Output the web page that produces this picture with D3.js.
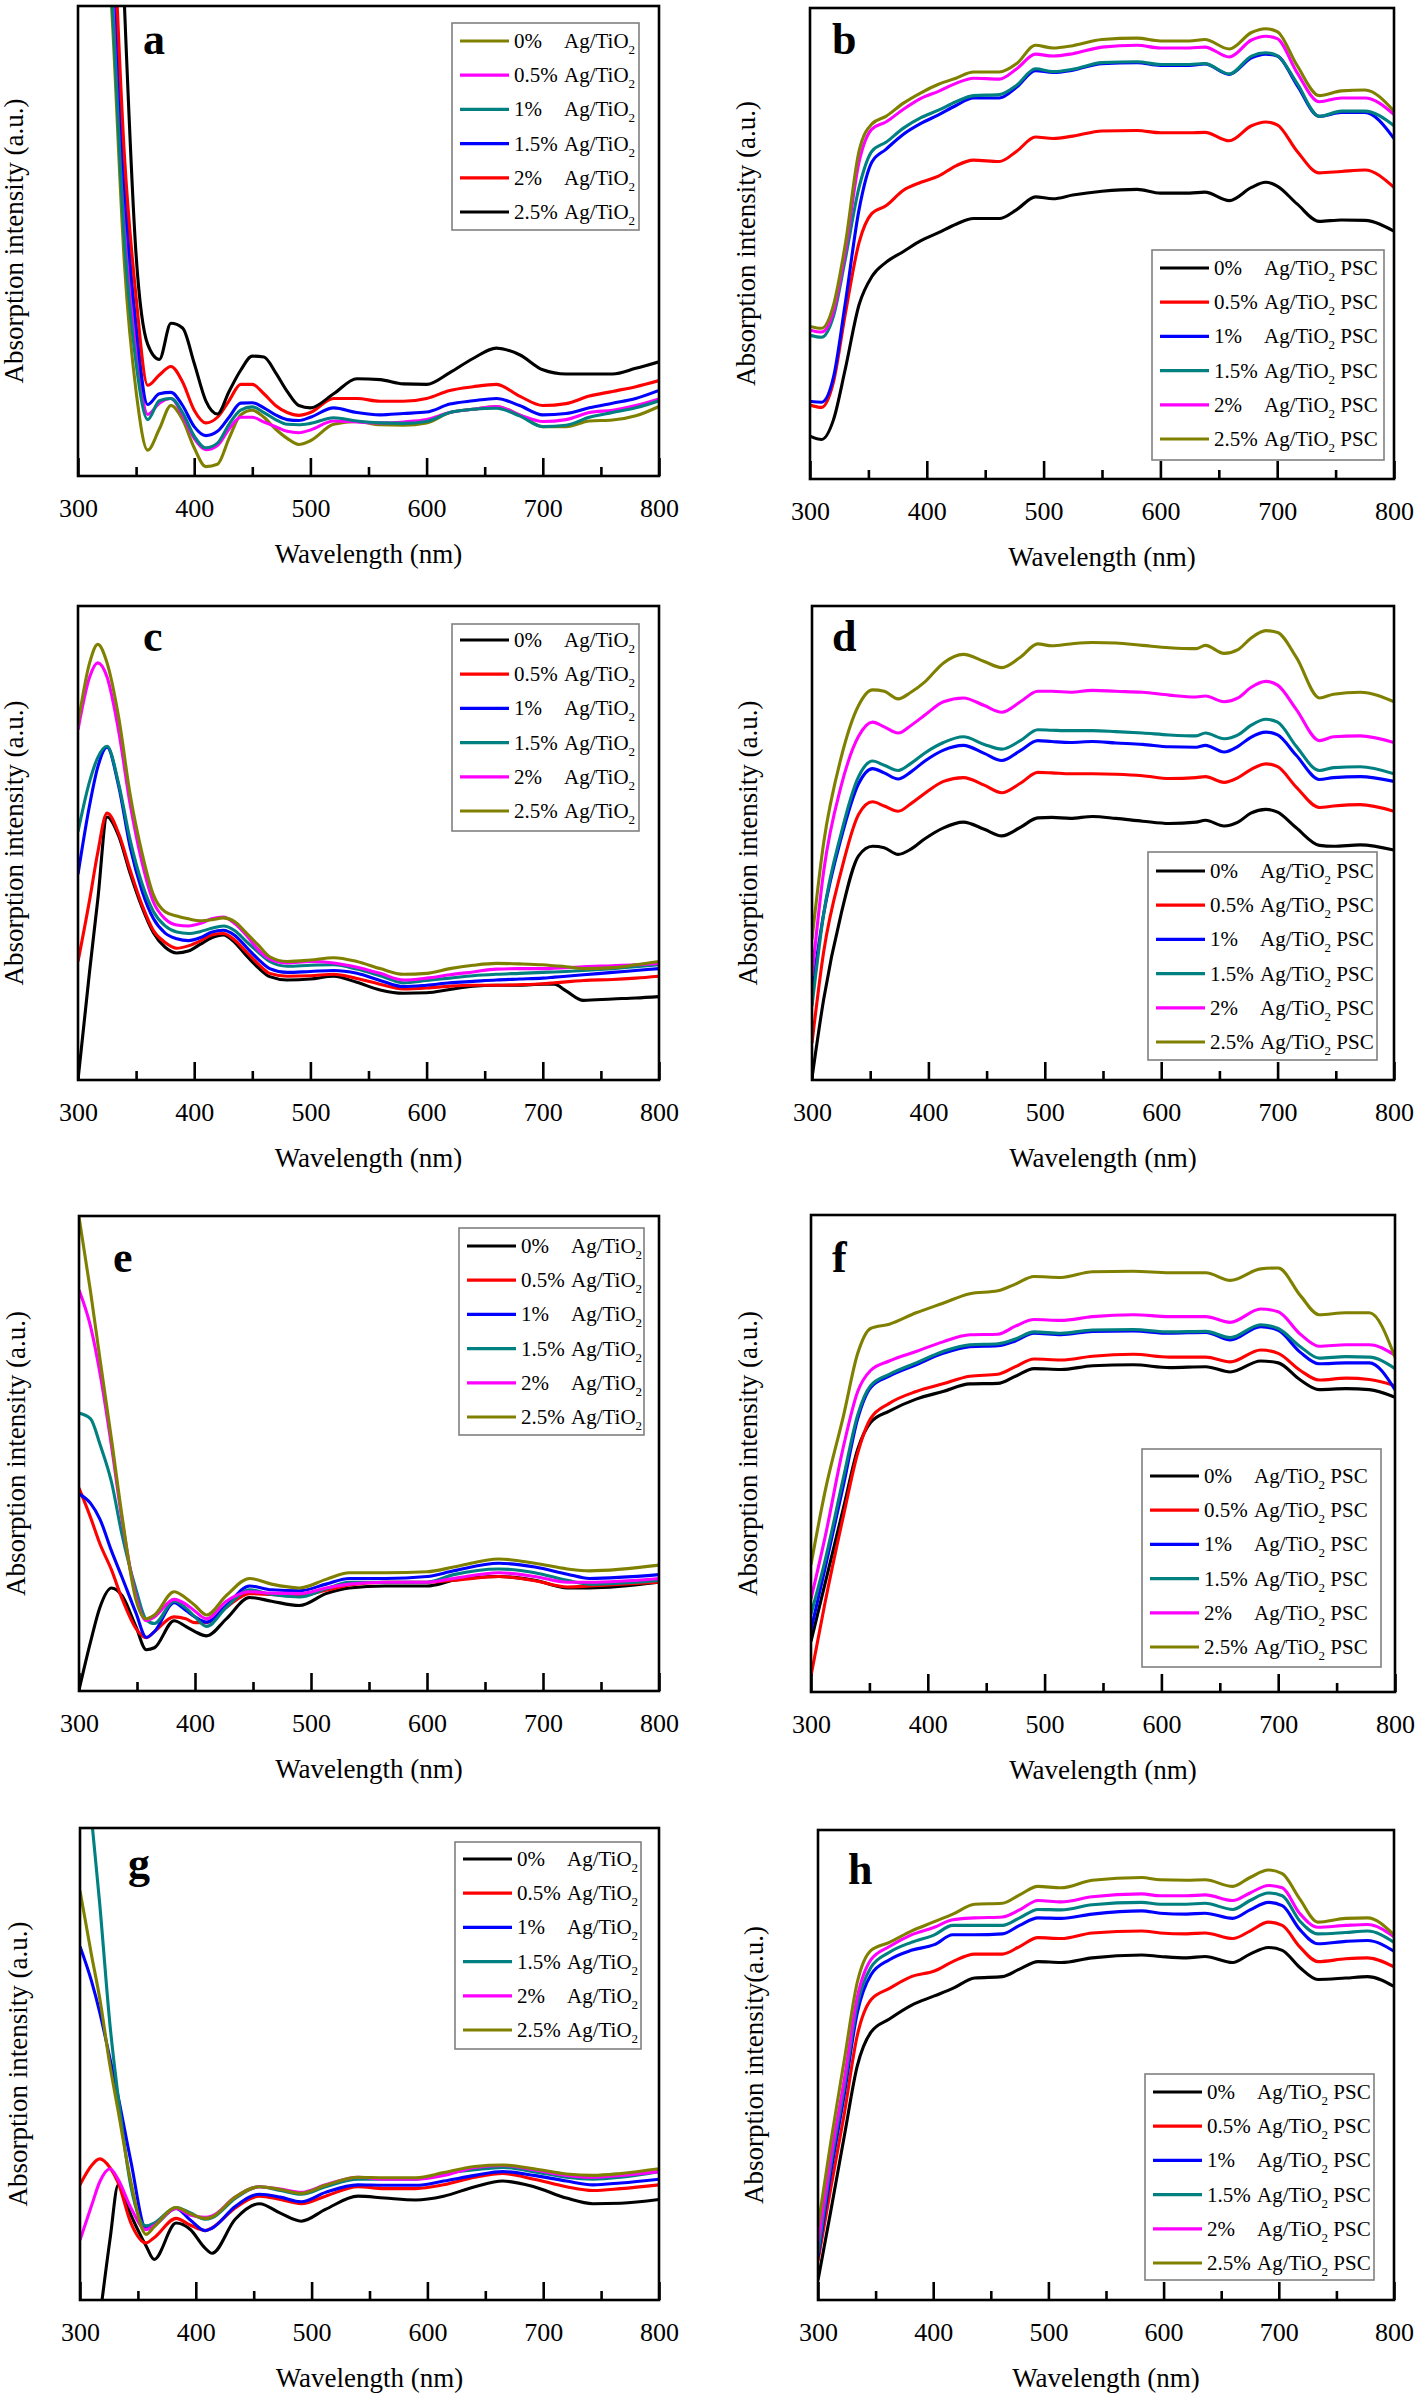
<!DOCTYPE html>
<html>
<head>
<meta charset="utf-8">
<title>Ag/TiO2 absorption spectra</title>
<style>
  body { margin: 0; background: #fff; }
  text { font-family: "Liberation Serif", "Times New Roman", serif; }
</style>
</head>
<body>
<script src="https://cdn.jsdelivr.net/npm/d3@7/dist/d3.min.js"></script>
<script>
// ---- data (relative absorption, 0 = bottom of frame, 100 = top) ----
var levels = ["0%", "0.5%", "1%", "1.5%", "2%", "2.5%"];
var xTicks = [300, 400, 500, 600, 700, 800];
var xMinor = [350, 450, 550, 650, 750];

// panel a (Ag/TiO2)
var aWl = [320,330,340,350,360,370,380,390,400,410,420,430,440,450,460,470,480,490,500,520,540,560,580,600,620,640,660,680,700,720,740,760,780,800];
var a00 = [140,95,45,18,5.5,10,15,12,6,2,2.5,8,13,14,12.5,10,8,6.7,7.5,11,11.6,10.9,10.8,11.3,13.5,14.2,14.8,13,10.5,10.5,11.7,11.9,12.8,14.8];
var a05 = [150,108,55,28,13.1,15.5,16.5,13,8,5.6,6.5,10,12.5,12.5,11.5,10.5,9.5,9.2,9.8,11.7,11.5,11.3,11.5,12,13.5,14.2,14.8,13,11.6,12,13.5,14,15,16.4];
var a10 = [140,98,50,24,12,16,16.5,13.5,8.5,6,7,11,14,14.7,13.5,12,11,10.9,11.2,12.4,11.7,11.3,11.2,11.6,13.5,14.2,14.4,12.8,10.5,10.8,12.5,13.5,14.5,16];
var a15 = [160,115,62,32,15.2,17.5,17.8,15,10.5,8.6,9.5,12.5,15.5,15.6,14.5,13,12,11.8,12.5,14.5,13.5,13,13.3,13.6,15.3,16,16.5,15,13,13.3,14.5,15.5,16.5,18.2];
var a20 = [165,120,68,38,19.3,21.5,23.3,20,14,11.3,12.5,16,19.5,19.5,17.5,15,13.5,12.9,13.5,16.5,16.5,15.9,15.9,16.5,18.2,19,19.5,17,15,15.4,17,18,19,20.3];
var a25 = [220,170,100,47,28,24.8,32.5,31.5,24,16,13.2,18,22.5,25.5,25.3,22,18,15,14.5,17.5,20.7,20.5,19.6,19.5,22,25,27.2,25.8,22.6,21.7,21.7,21.7,22.9,24.3];

// panel b (PSC)
var bWl = [300,310,320,330,342,353,365,380,395,410,425,440,462,477,493,508,525,550,580,600,625,638,659,678,690,700,717,736,755,775,800];
var b00 = [9.1,8.4,12.5,23.1,37,43,46,48.3,50.6,52.3,54.1,55.3,55.3,57.2,59.9,59.5,60.3,61.1,61.5,60.7,60.7,60.9,59.1,61.9,63,62.2,58.4,54.7,55,54.9,52.6];
var b05 = [15.7,15.2,20.5,34.7,50.2,56.4,58,61.3,63,64.3,66.5,67.7,67.4,69.6,72.6,72.3,72.8,73.9,74,73.5,73.5,73.6,71.8,75,75.8,75.2,69.6,65,65.3,65.6,61.9];
var b10 = [16.5,16.3,21.5,37,57.2,67.3,70,73.2,75.5,77.3,79.3,80.9,80.9,83.2,86.7,86.3,86.8,88.2,88.4,87.8,87.8,88.1,85.9,89.4,90.2,89.8,83.6,77,77.8,77.8,72.3];
var b15 = [30.5,30.1,34.5,46.4,61.9,69.6,71.5,74.5,76.7,78.3,80.1,81.4,81.6,83.6,87.1,86.5,87,88.4,88.6,88,88,88.2,86,89.8,90.5,89.9,84,77,78.1,78.1,75];
var b20 = [31.6,31.2,35.5,47.9,67.3,74.3,75.8,78.5,80.8,82.3,84,85.1,84.9,87.1,90.2,89.8,90.3,91.7,92.1,91.5,91.5,91.7,89.6,93.2,94,93.5,86.3,80.1,80.9,80.9,77.4];
var b25 = [32.4,32,36.8,49.5,69.6,75.4,77,79.8,82,83.8,85.1,86.4,86.4,88.2,92.1,91.5,92,93.3,93.6,93,93,93.3,91.3,94.8,95.6,95,87.8,81.4,82.4,82.6,78.1];

// panel c (Ag/TiO2)
var cWl = [300,310,317,325,335,345,355,365,375,385,395,405,415,425,435,445,455,465,480,500,520,540,560,580,600,620,640,660,680,700,710,720,735,760,780,800];
var c00 = [0,23,38,55.5,51.5,43.5,36.5,31,28,26.8,27.2,28.6,30,30.6,29,26.2,23.7,21.8,21.1,21.3,21.9,20.6,19,18.3,18.4,19.1,19.8,20,20,20.2,20.2,18.8,16.8,17.1,17.3,17.6];
var c05 = [25,38,48,56.3,52,44.2,37,31.5,29,27.8,28.3,29.3,30.6,30.9,29.5,27,24.5,22.5,21.9,22,22.3,21.4,20.2,19.2,19.4,19.8,20,20,20.1,20.3,20.5,20.7,21,21.2,21.5,21.9];
var c10 = [43.4,58,66,70.2,62,49,40,34,31,29.8,29.4,30,31.2,31.6,30.5,28,25.5,23.5,22.7,22.9,23.1,22.5,21,19.7,20,20.5,20.8,21.1,21.3,21.5,21.7,21.9,22.2,22.7,23.1,23.5];
var c15 = [52.4,63,68,70.4,62.5,50.5,41.5,35.5,32.5,31.2,30.9,31.3,32,32.5,31.5,29.2,27,25,24,24.2,24.3,23.4,22,20.5,21,21.5,22,22.3,22.5,22.7,22.8,22.9,23.1,23.5,23.9,24.3];
var c20 = [73.9,85,88,85,73.6,58,46,37.5,34,32.7,32.5,33,34,34.4,33,30.5,27.5,25.5,24.7,25,24.7,23.8,22.5,21.1,21.5,22.2,22.8,23.4,23.5,23.5,23.6,23.7,23.9,24.1,24.3,24.6];
var c25 = [75.1,88,91.9,88,76.5,60,48,39,35.5,34.6,34,33.6,33.8,34.2,33.4,31,28.5,26,25,25.3,25.8,25,23.5,22.3,22.5,23.5,24.2,24.6,24.5,24.3,24.1,23.9,23.5,23.7,24.3,25];

// panel d (PSC)
var dWl = [300,310,325,340,352,362,374,385,397,413,430,448,463,479,494,506,522,541,561,584,607,630,638,654,666,677,690,700,716,736,748,771,800];
var d00 = [0.4,17,35,47.3,49.3,49,47.6,48.7,50.9,53.2,54.4,52.9,51.5,53.3,55.3,55.4,55.2,55.6,55.2,54.6,54.1,54.4,54.8,53.6,54.4,56.3,57.1,56.5,53.2,49.5,49.3,49.6,48.5];
var d05 = [7.8,27,44,56,58.7,57.8,56.7,58.3,60.5,63,63.8,62.2,60.6,62.6,64.9,64.8,64.6,64.6,64.5,64.2,63.6,63.8,64,62.8,63.8,65.5,66.7,66.1,61.8,57.5,57.8,58.1,56.7];
var d10 = [18.8,35,51,62.5,65.7,64.8,63.5,65,67.3,69.6,70.6,68.9,67.4,69.5,71.6,71.4,71.2,71.4,71.1,70.8,70.3,70.2,70.6,69.2,70.4,72.3,73.4,72.8,68.5,63.4,63.8,64,63];
var d15 = [15.6,35,52,64,67.3,66.4,65.3,66.8,69,71.2,72.4,70.8,69.8,71.6,73.9,73.8,73.7,73.7,73.5,73.2,72.8,72.6,73.2,72,72.8,74.8,76.1,75.5,70.4,65.3,65.9,66.1,64.6];
var d20 = [21.9,44,62,72.5,75.5,74.5,73.2,74.8,77,79.8,80.6,79,77.6,79.8,82,82,81.8,82.2,82,81.8,81.2,80.8,81,79.8,80.6,82.8,84.1,83.3,78.2,71.6,72.4,72.6,71.2];
var d25 = [29.7,50,68,79,82.3,82,80.4,81.8,84,88,89.8,88.3,87,89.2,92,91.6,92,92.3,92.2,91.7,91.2,91,91.7,90,90.8,93.2,94.8,94.4,89.2,80.6,81.4,81.8,79.8];

// panel e (Ag/TiO2)
var eWl = [300,310,318,328,337,349,358,365,382,392,400,410,427,447,466,490,513,533,564,600,623,662,693,721,740,800];
var e00 = [0.2,10.4,17.6,21.7,20.1,13.6,8.7,9.1,14.8,13.6,12.5,11.6,15.2,19.7,18.9,18,20.5,21.7,22.1,22.1,23.3,24.1,23.3,21.7,21.7,22.9];
var e05 = [42.7,36.5,31,25.5,19.5,13.2,11.2,12.5,15.6,15.2,14.4,14.4,17.6,20.5,20.3,20.1,21.2,22.3,22.9,22.9,23.3,24.1,23.2,21.9,22.1,22.9];
var e10 = [41.5,39.5,36.2,29.5,24,16.5,11.3,12.5,18.6,17,15.6,14.5,18,22.1,21.3,21.1,22.5,23.7,23.7,24.1,25.3,26.9,26.1,24.6,23.7,24.5];
var e15 = [58.5,57.3,52,44,33,21.5,15,14.2,18.9,17.5,15.6,13.6,17.6,21.3,20.3,19.8,21.5,22.9,22.9,22.9,24.5,25.7,24.9,23.3,22.5,23.3];
var e20 = [84.4,76.7,67,51.6,36.2,20,14.8,15.6,19.3,18.3,16.8,15.2,18.9,20.9,20.6,20.5,21.7,22.5,22.9,22.9,23.7,24.9,24.1,22.9,22.9,23.7];
var e25 = [99.8,84,70,53,37,19.3,15.2,16,20.9,19.6,18,16,20.1,23.7,22.5,21.7,23.5,24.9,24.9,25.1,26.1,27.8,26.9,25.7,25.3,26.5];

// panel f (PSC)
var fWl = [300,312,328,340,351,367,390,413,436,460,475,491,514,541,576,607,638,659,685,700,719,735,758,778,800];
var f00 = [10.6,22.7,38.8,50.9,56.5,58.9,61.4,63,64.6,64.7,66.2,67.8,67.6,68.4,68.6,68,68.2,67.1,69.4,69,65.4,63.4,63.6,63.4,61.8];
var f05 = [3.4,18.7,37.2,50.1,57.3,60.5,63,64.6,66.2,66.6,68.2,69.8,69.6,70.4,70.8,70.2,70.2,69.2,71.7,71,67.4,65.4,65.8,65.5,64.2];
var f10 = [13,25.9,43.6,57.3,63.8,66.2,68.6,71,72.4,72.6,73.6,75.2,74.9,75.6,75.7,75.2,75.4,73.8,76.6,75.8,71.2,68.8,69,69,63.4];
var f15 = [16.3,27.5,45.2,58.1,64.2,66.6,69,71.4,72.8,73,74,75.5,75.2,75.9,76,75.5,75.6,74.3,77,76.2,72.4,70,70.3,70.2,67.8];
var f20 = [19.5,32.4,51.7,63,67.4,69.4,71.4,73.4,74.9,75,76.7,78.1,77.9,78.7,79.1,78.7,78.7,77.5,80.3,79.7,75,72.5,72.8,72.8,70.6];
var f25 = [26.7,42,58.1,71,76.2,77.1,79.5,81.5,83.5,84.1,85.5,87.1,86.9,88.1,88.2,87.9,87.9,86.3,88.7,88.9,83.1,79.1,79.5,79.5,70.2];

// panel g (Ag/TiO2)
var gWl = [300,310,317,326,333,344,357,364,383,395,408,414,434,455,473,491,512,540,563,590,614,641,665,692,720,743,767,800];
var g00 = [-40,-18,-4,13,24.4,18,11.5,8.6,16.3,15,11,9.9,17.1,20.4,18.4,16.7,19.2,22,21.6,21.2,22,24,25.2,24,21.6,20.4,20.5,21.3];
var g05 = [24.4,28.5,29.9,28,24.8,16.3,12.1,13.2,17.3,15.9,14.7,15.3,19.5,22,21.3,20.4,22,24,23.6,23.6,24.4,26,26.8,25.6,24,23.2,23.6,24.4];
var g10 = [74.9,67.5,61,51,43,29.3,15.1,15.8,19.4,17,14.7,15.2,19.8,22.4,21.8,20.8,22.8,24.4,24.3,24.3,25.2,26.4,27.2,26.4,25.2,24.4,24.8,25.6];
var g15 = [130,102,84,58,43,24,15.7,16.3,19.6,18.5,17.1,17.4,21.5,24,23.2,22.4,24,25.6,25.6,25.6,26.8,27.6,28.1,27.2,26,25.6,26,27.2];
var g20 = [12.7,20,25,27.8,25.5,19.5,14.9,15.8,19.4,18,17.5,17.8,21.8,24,23.5,22.8,24.4,26,25.6,25.6,26.4,28.1,28.5,27.6,26.4,26,26.4,27.2];
var g25 = [86.7,73,64,49.5,40,25,13.9,15.5,19.6,18.3,17.3,17.6,21.8,24,23.4,22.6,24.3,26,25.9,25.9,27,28.3,28.6,27.8,26.7,26.4,26.8,27.8];

// panel h (PSC)
var hWl = [300,311,323,334,346,362,381,401,417,436,460,475,491,511,538,581,597,620,636,660,675,691,703,718,734,758,777,800];
var h00 = [4.2,18.8,35.1,49.7,57,59.8,62.7,64.7,66.3,68.5,68.8,70.4,72,71.8,72.8,73.4,73.1,72.8,73.1,71.8,73.6,75,74.4,70.8,68.2,68.5,68.8,66.7];
var h05 = [8.3,23.7,39.9,56.2,63.9,66.3,68.8,70,72,73.6,73.6,75.2,77.1,76.9,78.1,78.5,78.1,77.9,78.1,76.9,78.5,80.4,79.7,75.2,72,72.6,72.8,70.9];
var h10 = [9.1,26.9,44,61,69.2,72.4,74.4,75.6,77.7,77.7,77.9,79.7,81.3,81.2,82.1,82.8,82.3,82.1,82.3,81.2,83,84.6,83.9,78.9,75.8,76.3,76.5,74.2];
var h15 = [9.9,28.6,45.6,62.7,70.8,74,76.1,77.7,79.7,79.7,79.7,81.3,83.1,83,84.1,84.6,84.2,84.2,84.4,83.1,85,86.6,86,80.7,77.9,78.2,78.5,76.1];
var h20 = [12.3,30.2,47.2,64.3,72.4,75.2,77.7,79.3,80.9,81.3,81.5,83,85,84.7,85.8,86.4,86,86,86.2,85,86.6,88.2,87.7,82.3,79.3,79.7,79.9,77.3];
var h25 = [15.6,33.4,51.3,67.5,74.4,76.1,78.5,80.5,82.1,84.2,84.4,86.2,88,87.7,89.3,89.9,89.4,89.3,89.4,88,89.9,91.5,90.7,85.4,80.4,81.2,81.3,77.7];

// colours in legend order (panel a uses the reversed set)
var colMain = ["#000000", "#ff0000", "#0000ff", "#008080", "#ff00ff", "#808000"];
var colA = ["#808000", "#ff00ff", "#008080", "#0000ff", "#ff0000", "#000000"];

// ---- layout of the eight panels ----
var panels = [
  { id: "a", wl: aWl, ys: [a00, a05, a10, a15, a20, a25], col: colA, psc: false,
    L: 78, R: 659, T: 6, B: 476, leg: [452, 23, 187, 207, 41], yl: 14, let: [143, 54] },
  { id: "b", wl: bWl, ys: [b00, b05, b10, b15, b20, b25], col: colMain, psc: true,
    L: 810, R: 1394, T: 8, B: 479, leg: [1152, 250, 232, 210, 268], yl: 746, let: [832, 54] },
  { id: "c", wl: cWl, ys: [c00, c05, c10, c15, c20, c25], col: colMain, psc: false,
    L: 78, R: 659, T: 606, B: 1080, leg: [452, 624, 187, 207, 640], yl: 14, let: [143, 651] },
  { id: "d", wl: dWl, ys: [d00, d05, d10, d15, d20, d25], col: colMain, psc: true,
    L: 812, R: 1394, T: 606, B: 1080, leg: [1148, 852, 229, 208, 871], yl: 748, let: [832, 651] },
  { id: "e", wl: eWl, ys: [e00, e05, e10, e15, e20, e25], col: colMain, psc: false,
    L: 79, R: 659, T: 1216, B: 1691, leg: [459, 1228, 185, 207, 1246], yl: 16, let: [113, 1272] },
  { id: "f", wl: fWl, ys: [f00, f05, f10, f15, f20, f25], col: colMain, psc: true,
    L: 811, R: 1395, T: 1215, B: 1692, leg: [1142, 1449, 239, 218, 1476], yl: 748, let: [832, 1272] },
  { id: "g", wl: gWl, ys: [g00, g05, g10, g15, g20, g25], col: colMain, psc: false,
    L: 80, R: 659, T: 1828, B: 2300, leg: [455, 1842, 186, 207, 1859], yl: 18, let: [128, 1878] },
  { id: "h", wl: hWl, ys: [h00, h05, h10, h15, h20, h25], col: colMain, psc: true,
    L: 818, R: 1394, T: 1830, B: 2300, leg: [1145, 2074, 229, 206, 2092], yl: 754, let: [848, 1884] }
];

var svg = d3.select("body").append("svg")
  .attr("width", 1418)
  .attr("height", 2397)
  .style("background", "#fff");

var defs = svg.append("defs");

panels.forEach(function(p) {
  var x = d3.scaleLinear().domain([300, 800]).range([p.L, p.R]);
  var y = d3.scaleLinear().domain([0, 100]).range([p.B, p.T]);
  var g = svg.append("g");

  defs.append("clipPath").attr("id", "clip-" + p.id)
    .append("rect")
    .attr("x", p.L).attr("y", p.T)
    .attr("width", p.R - p.L).attr("height", p.B - p.T);

  // spectra
  var line = d3.line()
    .x(function(d, i) { return x(p.wl[i]); })
    .y(function(d) { return y(d); })
    .curve(d3.curveMonotoneX);

  g.append("g").attr("clip-path", "url(#clip-" + p.id + ")")
    .selectAll("path")
    .data(p.ys)
    .join("path")
    .attr("d", line)
    .attr("fill", "none")
    .attr("stroke", function(d, i) { return p.col[i]; })
    .attr("stroke-width", 3.1)
    .attr("stroke-linejoin", "round");

  // inward ticks, major with labels and minor without
  var major = d3.axisBottom(x).tickValues(xTicks).tickSize(-18).tickPadding(23).tickFormat(d3.format("d"));
  var minor = d3.axisBottom(x).tickValues(xMinor).tickSize(-9).tickFormat("");
  [major, minor].forEach(function(ax) {
    g.append("g")
      .attr("transform", "translate(0," + p.B + ")")
      .call(ax)
      .call(function(s) {
        s.select(".domain").remove();
        s.selectAll("line").attr("stroke", "#000").attr("stroke-width", 2.6);
        s.selectAll("text")
          .attr("fill", "#000")
          .style("font-family", "'Liberation Serif', serif")
          .style("font-size", "26px");
      });
  });

  // frame
  g.append("rect")
    .attr("x", p.L).attr("y", p.T)
    .attr("width", p.R - p.L).attr("height", p.B - p.T)
    .attr("fill", "none").attr("stroke", "#000").attr("stroke-width", 2.6);

  // axis titles
  g.append("text")
    .attr("x", (p.L + p.R) / 2).attr("y", p.B + 87)
    .attr("text-anchor", "middle")
    .style("font-size", "27px")
    .text("Wavelength (nm)");

  g.append("text")
    .attr("transform", "translate(" + p.yl + "," + ((p.T + p.B) / 2) + ") rotate(-90)")
    .attr("text-anchor", "middle")
    .attr("dominant-baseline", "central")
    .style("font-size", "27px")
    .text(p.id === "h" ? "Absorption intensity(a.u.)" : "Absorption intensity (a.u.)");

  // panel letter
  g.append("text")
    .attr("x", p.let[0]).attr("y", p.let[1])
    .style("font-size", "44px").style("font-weight", "bold")
    .text(p.id);

  // legend
  var lx = p.leg[0], ly = p.leg[1];
  var lg = g.append("g");
  lg.append("rect")
    .attr("x", lx).attr("y", ly)
    .attr("width", p.leg[2]).attr("height", p.leg[3])
    .attr("fill", "#fff").attr("stroke", "#808080").attr("stroke-width", 1.6);

  levels.forEach(function(lev, i) {
    var ry = p.leg[4] + i * 34.2;
    lg.append("line")
      .attr("x1", lx + 8).attr("x2", lx + 57)
      .attr("y1", ry).attr("y2", ry)
      .attr("stroke", p.col[i]).attr("stroke-width", 3.2);
    var t = lg.append("text")
      .attr("x", lx + 62).attr("y", ry + 7)
      .style("font-size", "21px");
    t.append("tspan").text(lev);
    t.append("tspan").attr("x", lx + 112).text("Ag/TiO");
    t.append("tspan").attr("dy", 6).style("font-size", "13px").text("2");
    if (p.psc) t.append("tspan").attr("dy", -6).text(" PSC");
  });
});
</script>
</body>
</html>
